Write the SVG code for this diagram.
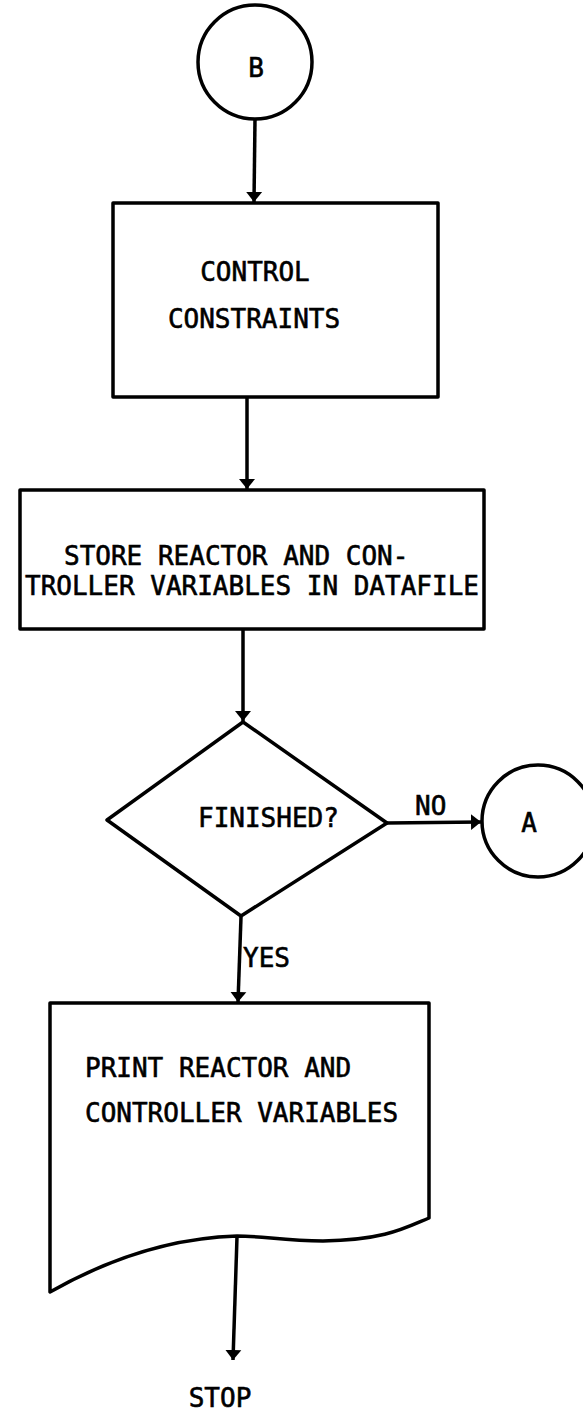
<svg xmlns="http://www.w3.org/2000/svg" width="583" height="1412" viewBox="0 0 583 1412">
<defs>
<style>
.s{fill:none;stroke:#000;stroke-width:3.5;stroke-linejoin:round}
.c{fill:none;stroke:#000;stroke-width:3.5}
.t{font-family:"DejaVu Sans Mono","Liberation Mono",monospace;font-size:26px;fill:#000;stroke:#000;stroke-width:0.6}
</style>
<marker id="ah" viewBox="0 0 10 18" refX="10" refY="9" markerWidth="10" markerHeight="18" markerUnits="userSpaceOnUse" orient="auto">
<path d="M0,1 L10,9 L0,17 Z" fill="#000"/>
</marker>
</defs>
<rect width="583" height="1412" fill="#fff"/>
<g id="connectors">
<path class="c" d="M255,119 L254,202" marker-end="url(#ah)"/>
<path class="c" d="M247,397 L247,489" marker-end="url(#ah)"/>
<path class="c" d="M243,629 L243,721" marker-end="url(#ah)"/>
<path class="c" d="M387,823 L481,822" marker-end="url(#ah)"/>
<path class="c" d="M241,917 L238,1002" marker-end="url(#ah)"/>
<path class="c" d="M237,1237 L233,1360" marker-end="url(#ah)"/>
<text class="t" x="415" y="815">NO</text>
<text class="t" x="243" y="967">YES</text>
<text class="t" x="220" y="1407" text-anchor="middle">STOP</text>
</g>
<g id="nodeB">
<circle class="s" cx="255" cy="62" r="57"/>
<text class="t" x="256" y="77" text-anchor="middle">B</text>
</g>
<g id="nodeControl">
<rect class="s" x="113" y="203" width="325" height="194"/>
<text class="t" x="255" y="281" text-anchor="middle">CONTROL</text>
<text class="t" x="254" y="328" text-anchor="middle">CONSTRAINTS</text>
</g>
<g id="nodeStore">
<rect class="s" x="20" y="490" width="464" height="139"/>
<text class="t" x="64" y="565">STORE REACTOR AND CON-</text>
<text class="t" x="25" y="595">TROLLER VARIABLES IN DATAFILE</text>
</g>
<g id="nodeFinished">
<path class="s" d="M243,722 L387,823 L241,916 L107,820 Z"/>
<text class="t" x="198" y="827">FINISHED?</text>
</g>
<g id="nodeA">
<circle class="s" cx="538" cy="821" r="56"/>
<text class="t" x="529" y="832" text-anchor="middle">A</text>
</g>
<g id="nodePrint">
<path class="s" d="M50,1003 H429 V1218 C405,1228 385,1240 323,1241 C285,1241 262,1236 237,1236 C170,1238 110,1258 50,1292 Z"/>
<text class="t" x="85" y="1077">PRINT REACTOR AND</text>
<text class="t" x="85" y="1122">CONTROLLER VARIABLES</text>
</g>
</svg>
